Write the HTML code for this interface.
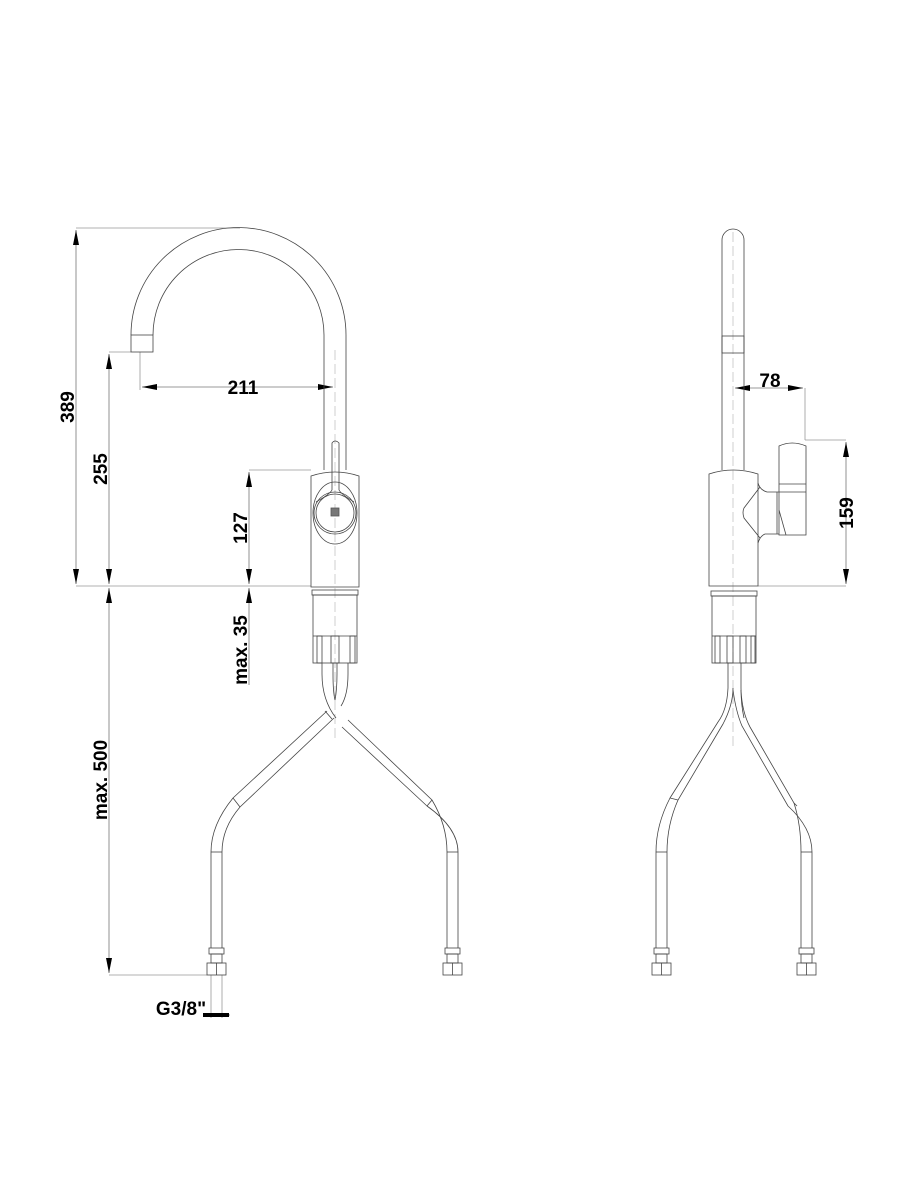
<!DOCTYPE html>
<html><head><meta charset="utf-8"><style>
html,body{margin:0;padding:0;background:#fff;}
svg{display:block;}
text{font-family:"Liberation Sans",Arial,sans-serif;font-weight:bold;font-size:19px;fill:#000;}
</style></head><body>
<svg width="900" height="1200" viewBox="0 0 900 1200" xmlns="http://www.w3.org/2000/svg">
<defs>
<marker id="a" viewBox="0 0 10 4" refX="10" refY="2" markerWidth="18" markerHeight="6" markerUnits="userSpaceOnUse" orient="auto-start-reverse"><path d="M0,0 L10,2 L0,4z" fill="#000"/></marker>
</defs>
<g fill="none" stroke="#999" stroke-width="0.8">
<line x1="76" y1="228" x2="240" y2="228"/>
<line x1="76" y1="586" x2="311" y2="586"/>
<line x1="109" y1="352" x2="131" y2="352"/>
<line x1="140" y1="352" x2="140" y2="390"/>
<line x1="249" y1="470" x2="311" y2="470"/>
<line x1="109" y1="975" x2="207" y2="975"/>
<line x1="211" y1="975" x2="211" y2="1018"/>
<line x1="222" y1="975" x2="222" y2="1018"/>
<line x1="805" y1="388" x2="805" y2="440"/>
<line x1="805" y1="440" x2="846" y2="440"/>
<line x1="758" y1="586" x2="846" y2="586"/>
</g>
<g stroke="#bbb" stroke-width="0.7" stroke-dasharray="10,4">
<line x1="335" y1="350" x2="335" y2="740"/>
<line x1="733" y1="232" x2="733" y2="750"/>
</g>
<g stroke="#777" stroke-width="0.8" fill="none">
<line x1="76" y1="230" x2="76" y2="584" marker-start="url(#a)" marker-end="url(#a)"/>
<line x1="109" y1="354" x2="109" y2="584" marker-start="url(#a)" marker-end="url(#a)"/>
<line x1="109" y1="588" x2="109" y2="973" marker-start="url(#a)" marker-end="url(#a)"/>
<line x1="142" y1="387" x2="333" y2="387" marker-start="url(#a)" marker-end="url(#a)"/>
<line x1="249" y1="472" x2="249" y2="584" marker-start="url(#a)" marker-end="url(#a)"/>
<line x1="249" y1="620" x2="249" y2="588" marker-end="url(#a)"/>
<line x1="249" y1="620" x2="249" y2="685"/>
<line x1="735" y1="388" x2="803" y2="388" marker-start="url(#a)" marker-end="url(#a)"/>
<line x1="846" y1="442" x2="846" y2="584" marker-start="url(#a)" marker-end="url(#a)"/>
<line x1="204" y1="1015" x2="211" y2="1015"/>
<line x1="230" y1="1015" x2="222" y2="1015"/>
</g>
<rect x="203" y="1013" width="26" height="4" fill="#000"/>
<text x="243" y="394" text-anchor="middle">211</text>
<text x="770" y="387" text-anchor="middle">78</text>
<text x="181" y="1015" text-anchor="middle">G3/8"</text>
<text transform="translate(74,407) rotate(-90)" text-anchor="middle">389</text>
<text transform="translate(107,469) rotate(-90)" text-anchor="middle">255</text>
<text transform="translate(247,528) rotate(-90)" text-anchor="middle">127</text>
<text transform="translate(247,650) rotate(-90)" text-anchor="middle">max. 35</text>
<text transform="translate(107,780) rotate(-90)" text-anchor="middle">max. 500</text>
<text transform="translate(853,513) rotate(-90)" text-anchor="middle">159</text>

<g fill="none" stroke="#444" stroke-width="0.8">
<path d="M131,335 A107.5,107.5 0 0 1 346,335 L346,470"/>
<path d="M153,335 A85.5,85.5 0 0 1 324,335 L324,470"/>
<rect x="131" y="335" width="22" height="17"/>
<path d="M332,490 L332,443 Q335,439 339,443 L339,490"/>
<path d="M311,587 L311,476 Q335,468 359,476 L359,587 Z"/>
<ellipse cx="335" cy="513" rx="22" ry="31"/>
<circle cx="335" cy="513" r="21"/>
<circle cx="335" cy="513" r="19"/>
<path d="M332,490 Q330,494 316,502 M339,490 Q341,494 354,502"/>
<rect x="331" y="508" width="8" height="8" fill="#777" stroke="#555"/>
<rect x="312" y="590" width="46" height="5"/>
<rect x="313" y="595" width="44" height="68"/>
<line x1="313" y1="636" x2="357" y2="636"/>
<rect x="317" y="636" width="5" height="27"/>
<rect x="331" y="636" width="8" height="27"/>
<rect x="350" y="636" width="5" height="27"/>
<!-- hoses left view -->
<path d="M322,663 L322,674 Q322,700 336,718"/>
<path d="M333,663 L333,674 Q333,692 335,700"/>
<path d="M337,663 L337,674 Q337,690 335,700"/>
<path d="M348,663 L348,674 Q348,695 341,706"/>
<path d="M334,718 L240,807 Q222,828 222,852 L222,948"/>
<path d="M327,711 L233,798 Q211,825 211,852 L211,948"/>
<path d="M348,720 L432,800 Q447,825 447,852 L447,948"/>
<path d="M342,727 L427,806 Q458,828 458,852 L458,948" transform="translate(0,0)"/>
<line x1="325" y1="711" x2="332" y2="719"/>
<line x1="233" y1="798" x2="240" y2="807"/>
<line x1="432" y1="800" x2="427" y2="806"/>
<line x1="211" y1="852" x2="222" y2="852"/>
<line x1="447" y1="852" x2="458" y2="852"/>
<rect x="209" y="948" width="15" height="6"/>
<rect x="211" y="954" width="11" height="9"/>
<rect x="207" y="963" width="19" height="12"/>
<line x1="216.5" y1="963" x2="216.5" y2="975"/>
<rect x="445" y="948" width="15" height="6"/>
<rect x="447" y="954" width="11" height="9"/>
<rect x="443" y="963" width="19" height="12"/>
<line x1="452.5" y1="963" x2="452.5" y2="975"/>

<!-- RIGHT VIEW -->
<path d="M722,470 L722,240 A11,11 0 0 1 744,240 L744,470"/>
<rect x="722" y="336" width="22" height="17"/>
<path d="M709,586 L709,474 Q733,466 758,474 L758,586 Z"/>
<path d="M779,446 Q792,440 806,446 L806,535 L779,535 Z"/>
<line x1="779" y1="484" x2="806" y2="484"/>
<line x1="779" y1="492" x2="806" y2="492"/>
<path d="M758,483 Q760,490 767,492 L779,492"/>
<path d="M758,543 Q760,536 765,534 L779,534"/>
<path d="M760,487 L744,508 Q742,512 744,518 L760,538"/>
<line x1="777" y1="492" x2="777" y2="534"/>
<path d="M779,510 L786,535"/>
<rect x="711" y="591" width="46" height="5"/>
<rect x="712" y="596" width="44" height="67"/>
<line x1="712" y1="636" x2="756" y2="636"/>
<rect x="715" y="636" width="5" height="27"/>
<rect x="727" y="636" width="6" height="27"/>
<rect x="740" y="636" width="6" height="27"/>
<rect x="751" y="636" width="4" height="27"/>
<path d="M728,663 L728,688 Q727,710 718,722 L670,798 Q656,825 656,852 L656,948"/>
<path d="M741,663 L741,688 Q741,705 744,718"/>
<path d="M733,688 Q733,705 723,724 L678,800 Q667,825 667,852 L667,948"/>
<path d="M741,690 Q742,712 750,727 L794,803 Q801,825 801,852 L801,948"/>
<path d="M733,690 Q736,712 742,726 L788,806 Q812,828 812,852 L812,948"/>
<line x1="670" y1="798" x2="678" y2="800"/>
<line x1="794" y1="803" x2="797" y2="806"/>
<line x1="656" y1="852" x2="667" y2="852"/>
<line x1="801" y1="852" x2="812" y2="852"/>
<rect x="654" y="948" width="15" height="6"/>
<rect x="656" y="954" width="11" height="9"/>
<rect x="652" y="963" width="19" height="12"/>
<line x1="661.5" y1="963" x2="661.5" y2="975"/>
<rect x="799" y="948" width="15" height="6"/>
<rect x="801" y="954" width="11" height="9"/>
<rect x="797" y="963" width="19" height="12"/>
<line x1="806.5" y1="963" x2="806.5" y2="975"/>
</g>
</svg>
</body></html>
